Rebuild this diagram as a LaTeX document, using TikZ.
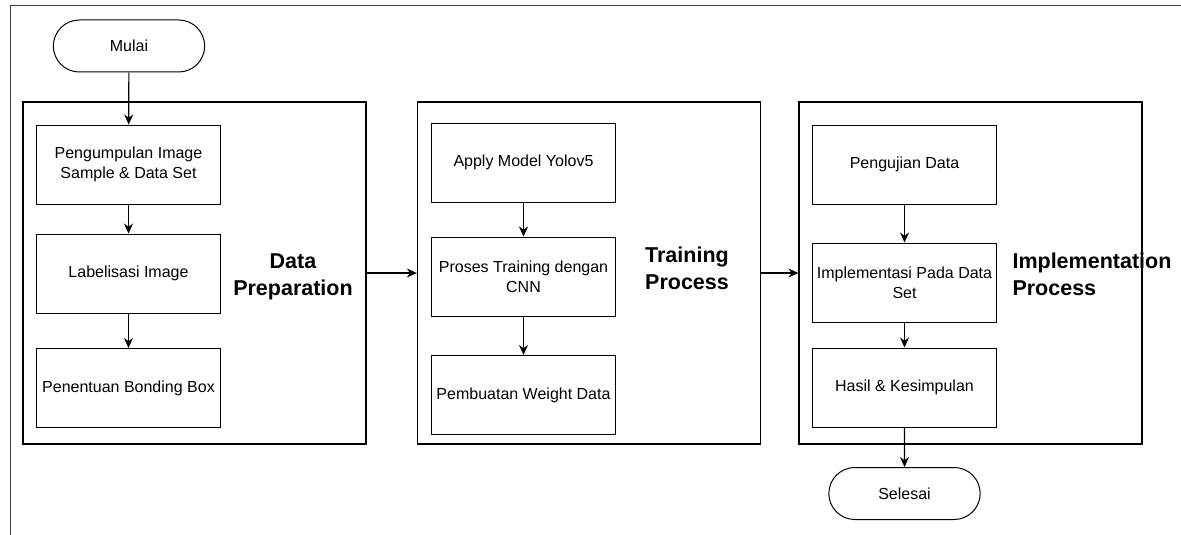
\documentclass[tikz,border=0pt]{standalone}
\usepackage{fontspec}
\setmainfont{Liberation Sans}
\usetikzlibrary{arrows.meta,shapes.misc}
\begin{document}
\begin{tikzpicture}[x=1pt,y=-1pt,
    stage/.style={draw,line width=1.3pt,minimum width=343pt,minimum height=342pt},
    stepbox/.style={draw,line width=1pt,minimum width=184pt,minimum height=79pt,align=center,font=\fontsize{16}{20}\selectfont},
    term/.style={draw,rounded rectangle,line width=1pt,minimum width=158pt,minimum height=52pt,font=\fontsize{16}{20}\selectfont},
    title/.style={font=\fontsize{21.5}{27}\selectfont\bfseries},
    flow/.style={-{Stealth[length=10pt,width=9pt]},line width=1.2pt}]
    \useasboundingbox (0,0) rectangle (1181,535);
    \draw[line width=1pt,black!75] (10,535) -- (10,6) -- (1181,6);
    \node[term] (mulai) at (129,46) {Mulai};
    \node[stage] (prep) at (194.5,273) {};
    \node[stepbox] (kumpul) at (128.5,164.5) {Pengumpulan Image\\Sample \& Data Set};
    \node[stepbox] (label) at (128.5,273.5) {Labelisasi Image};
    \node[stepbox] (bbox) at (128.5,388) {Penentuan Bonding Box};
    \node[title,align=center] (tprep) at (293,277) {Data\\Preparation};
    \node[stage] (train) at (589,273) {};
    \node[stepbox] (yolo) at (523.5,162.5) {Apply Model Yolov5};
    \node[stepbox] (cnn) at (523.5,276.5) {Proses Training dengan\\CNN};
    \node[stepbox] (weight) at (523.5,395) {Pembuatan Weight Data};
    \node[title,align=left] (ttrain) at (687,268) {Training\\Process};
    \node[stage] (impl) at (970.5,273) {};
    \node[stepbox] (uji) at (904.5,164.5) {Pengujian Data};
    \node[stepbox] (terap) at (904.5,282.5) {Implementasi Pada Data\\Set};
    \node[stepbox] (hasil) at (904.5,387.5) {Hasil \& Kesimpulan};
    \node[title,align=left,anchor=west] (timpl) at (1009,274) {Implementation\\Process};
    \node[term] (selesai) at (904.5,493.5) {Selesai};
    \draw[flow] (mulai) -- (kumpul);
    \draw[flow] (kumpul) -- (label);
    \draw[flow] (label) -- (bbox);
    \draw[flow] (prep) -- (train);
    \draw[flow] (yolo) -- (cnn);
    \draw[flow] (cnn) -- (weight);
    \draw[flow] (train) -- (impl);
    \draw[flow] (uji) -- (terap);
    \draw[flow] (terap) -- (hasil);
    \draw[flow] (hasil) -- (selesai);
\end{tikzpicture}
\end{document}
